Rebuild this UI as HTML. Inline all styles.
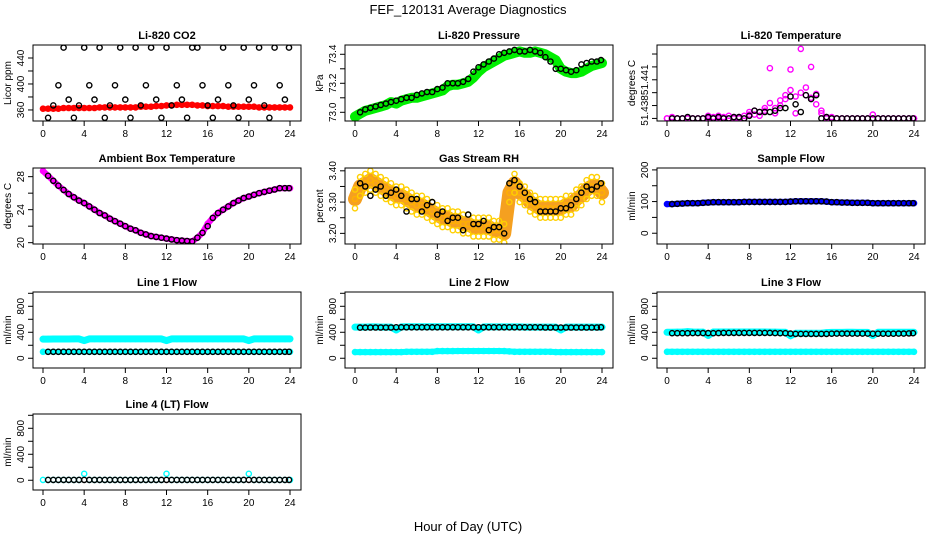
<!DOCTYPE html>
<html><head><meta charset="utf-8"><style>
body{margin:0;background:#fff}
svg{display:block;font-family:"Liberation Sans",sans-serif}
</style></head><body>
<svg id="c" width="936" height="540" viewBox="0 0 936 540">
<text x="468" y="14" text-anchor="middle" font-size="13">FEF_120131  Average Diagnostics</text>
<text x="468" y="531" text-anchor="middle" font-size="13">Hour of Day (UTC)</text>
</svg>
<script>
const HD=[0,0.5,1,1.5,2,2.5,3,3.5,4,4.5,5,5.5,6,6.5,7,7.5,8,8.5,9,9.5,10,10.5,11,11.5,12,12.5,13,13.5,14,14.5,15,15.5,16,16.5,17,17.5,18,18.5,19,19.5,20,20.5,21,21.5,22,22.5,23,23.5,24];
const HB=[0.5,1,1.5,2,2.5,3,3.5,4,4.5,5,5.5,6,6.5,7,7.5,8,8.5,9,9.5,10,10.5,11,11.5,12,12.5,13,13.5,14,14.5,15,15.5,16,16.5,17,17.5,18,18.5,19,19.5,20,20.5,21,21.5,22,22.5,23,23.5,23.9];
const co2Red=[362,362,362,362,363,363,363,363,363,363,363,364,364,364,364,364,364,364,364,365,365,365,366,366,367,367,368,368,368,368,367,367,366,366,366,366,365,365,365,365,365,365,364,364,364,364,364,364,364];
const co2Black=[348,367,398,456,376,348,367,456,398,376,456,348,367,398,456,376,348,456,367,398,456,376,348,456,367,398,376,348,456,456,398,367,348,376,456,398,367,348,456,376,398,456,367,348,456,398,376,456];
const presGreen=[72.97,72.99,73.01,73.02,73.03,73.04,73.05,73.07,73.06,73.08,73.09,73.10,73.10,73.11,73.12,73.13,73.14,73.15,73.18,73.19,73.19,73.20,73.21,73.24,73.28,73.31,73.33,73.35,73.37,73.39,73.40,73.41,73.42,73.41,73.41,73.42,73.41,73.40,73.38,73.36,73.30,73.28,73.27,73.27,73.28,73.30,73.32,73.33,73.34];
const presBlack=[73.00,73.02,73.03,73.04,73.05,73.06,73.07,73.08,73.09,73.10,73.10,73.12,73.13,73.14,73.14,73.16,73.17,73.20,73.20,73.20,73.21,73.23,73.28,73.31,73.33,73.35,73.37,73.40,73.41,73.42,73.43,73.42,73.42,73.43,73.42,73.41,73.38,73.35,73.30,73.30,73.29,73.28,73.29,73.33,73.34,73.35,73.35,73.36];
const tempMag=[51.4380,51.4381,51.4380,51.4380,51.4380,51.4380,51.4380,51.4380,51.4382,51.4381,51.4380,51.4381,51.4380,51.4381,51.4381,51.4382,51.4383,51.4386,51.4385,51.4386,51.4392,51.4388,51.4394,51.4398,51.4402,51.4397,51.4400,51.4404,51.4396,51.4391,51.4386,51.4381,51.4381,51.4380,51.4380,51.4380,51.4380,51.4380,51.4380,51.4380,51.4383,51.4380,51.4380,51.4380,51.4380,51.4380,51.4380,51.4380,51.4380];
const tempMag2=[51.4380,51.4380,51.4380,51.4380,51.4380,51.4380,51.4380,51.4380,51.4380,51.4380,51.4382,51.4380,51.4382,51.4380,51.4380,51.4380,51.4385,51.4383,51.4382,51.4388,51.4419,51.4384,51.4390,51.4395,51.4418,51.4384,51.4434,51.4398,51.4420,51.4399,51.4384,51.4380,51.4380,51.4380,51.4380,51.4380,51.4380,51.4380,51.4380,51.4380,51.4380,51.4380,51.4380,51.4380,51.4380,51.4380,51.4380,51.4380,51.4380];
const tempBlack=[51.4380,51.4380,51.4380,51.4381,51.4380,51.4380,51.4380,51.4381,51.4380,51.4381,51.4380,51.4380,51.4381,51.4381,51.4380,51.4382,51.4386,51.4385,51.4385,51.4385,51.4386,51.4388,51.4388,51.4397,51.4391,51.4385,51.4398,51.4395,51.4398,51.4380,51.4381,51.4380,51.4380,51.4380,51.4380,51.4380,51.4380,51.4380,51.4380,51.4380,51.4380,51.4380,51.4380,51.4380,51.4380,51.4380,51.4380,51.4380];
const ambMag=[28.7,28.1,27.5,26.9,26.4,25.9,25.5,25.1,24.8,24.4,24.0,23.6,23.3,22.9,22.6,22.3,22.0,21.7,21.5,21.2,21.0,20.8,20.7,20.6,20.5,20.4,20.3,20.25,20.2,20.15,20.6,21.2,22.3,23.0,23.6,24.0,24.4,24.8,25.1,25.4,25.6,25.8,26.0,26.15,26.3,26.45,26.6,26.6,26.6];
const ambBlack=[28.1,27.5,26.9,26.4,25.9,25.5,25.1,24.8,24.4,24.0,23.6,23.3,22.9,22.6,22.3,22.0,21.7,21.5,21.2,21.0,20.8,20.7,20.6,20.5,20.4,20.3,20.25,20.2,20.15,20.6,21.2,22.0,23.0,23.6,24.0,24.4,24.8,25.1,25.4,25.6,25.8,26.0,26.15,26.3,26.45,26.6,26.6,26.6];
const rhOrange=[3.31,3.35,3.36,3.37,3.36,3.35,3.34,3.33,3.32,3.32,3.31,3.30,3.29,3.29,3.28,3.27,3.26,3.25,3.25,3.24,3.24,3.23,3.23,3.22,3.22,3.22,3.22,3.21,3.21,3.20,3.33,3.36,3.33,3.32,3.30,3.29,3.28,3.28,3.28,3.28,3.28,3.29,3.29,3.31,3.32,3.34,3.35,3.35,3.33];
const rhBlack=[3.36,3.35,3.32,3.34,3.35,3.32,3.33,3.34,3.32,3.27,3.31,3.31,3.27,3.29,3.30,3.26,3.27,3.24,3.25,3.25,3.21,3.26,3.23,3.23,3.24,3.21,3.22,3.22,3.20,3.36,3.37,3.35,3.33,3.31,3.30,3.27,3.27,3.27,3.27,3.28,3.28,3.29,3.31,3.33,3.35,3.34,3.35,3.36];
const sampBlue=[92,92,93,94,95,95,95,96,97,98,98,98,98,98,98,99,99,99,99,99,99,99,99,99,100,101,101,101,101,101,101,100,98,98,97,97,96,96,96,96,95,95,95,95,95,95,95,95,95];
const sampBlack=[92,93,94,95,95,95,96,97,98,98,98,98,98,98,99,99,99,99,99,99,99,99,99,100,101,101,101,101,101,101,100,98,98,97,97,96,96,96,96,95,95,95,95,95,95,95,95,95];
const l1Hi=[295,295,296,296,297,297,298,298,272,298,298,298,298,298,298,298,298,298,298,298,298,298,298,298,272,298,298,298,298,298,298,298,298,298,298,298,298,298,298,298,272,298,298,298,298,298,298,298,298];
const l1Lo=[100,100,100,100,100,100,100,100,100,100,100,100,100,100,100,100,100,100,100,100,100,100,100,100,100,100,100,100,100,100,100,100,100,100,100,100,100,100,100,100,100,100,100,100,100,100,100,100,100];
const l1Black=[100,100,100,100,100,100,100,100,100,100,100,100,100,100,100,100,100,100,100,100,100,100,100,100,100,100,100,100,100,100,100,100,100,100,100,100,100,100,100,100,100,100,100,100,100,100,100,100];
const l2Hi=[480,480,480,482,482,480,480,480,435,482,484,484,484,484,484,484,484,484,484,484,484,484,484,484,435,482,482,482,482,482,482,482,482,480,480,480,480,480,480,480,435,480,480,480,480,480,480,480,480];
const l2Lo=[95,95,95,95,95,95,95,95,95,95,100,100,100,100,100,100,110,110,110,110,112,112,112,112,112,112,112,112,112,110,105,100,100,100,100,100,100,100,100,95,95,95,95,95,95,95,95,95,95];
const l2Black=[472,472,474,474,474,474,474,476,476,476,476,476,476,476,476,476,476,476,476,476,476,476,476,476,476,476,476,476,476,476,476,476,476,476,476,476,474,474,474,474,474,474,474,474,474,474,474,476];
const l3Hi=[400,400,402,402,410,404,402,402,350,404,404,404,404,404,404,404,404,404,404,404,402,402,400,400,345,385,385,385,385,385,385,395,398,398,398,400,400,398,398,398,350,400,400,400,400,400,400,400,400];
const l3Lo=[100,100,100,100,100,100,100,100,100,100,100,100,100,100,100,100,100,100,100,100,100,100,100,100,100,100,100,100,100,100,100,100,100,100,100,100,100,100,100,100,100,100,100,100,100,100,100,100,100];
const l3Black=[385,385,385,385,387,387,387,387,385,387,390,390,390,390,390,390,390,390,390,390,388,386,386,380,375,375,375,375,375,375,375,378,380,380,380,380,380,380,380,378,378,378,378,378,380,380,382,385];
const l4Cyan=[5,5,5,5,5,5,5,5,100,5,5,5,5,5,5,5,5,5,5,5,5,5,5,5,100,5,5,5,5,5,5,5,5,5,5,5,5,5,5,5,100,5,5,5,5,5,5,5,5];
const l4Black=[5,5,5,5,5,5,5,5,5,5,5,5,5,5,5,5,5,5,5,5,5,5,5,5,5,5,5,5,5,5,5,5,5,5,5,5,5,5,5,5,5,5,5,5,5,5,5,5];
const xTicks=[0,4,8,12,16,20,24];

const NS="http://www.w3.org/2000/svg";
const svg=document.getElementById('c');
function mk(tag,attrs,parent){const e=document.createElementNS(NS,tag);for(const k in attrs)e.setAttribute(k,attrs[k]);(parent||svg).appendChild(e);return e;}
const ROWS=[45,168,292,414];
const FLOW=[-150,1020],FT=[0,200,400,600,800,1000],FL=[0,400,800];
const panels=[
 {key:'co2',c:0,r:0,title:'Li-820 CO2',ylab:'Licor ppm',yr:[343,460],yt:[360,380,400,420,440],yl:[360,400,440],fmt:v=>v,
  series:[{x:HD,y:co2Red,col:'#ff0000',band:5},{x:HB,y:co2Black,col:'#000'}]},
 {key:'pressure',c:1,r:0,title:'Li-820 Pressure',ylab:'kPa',yr:[72.94,73.464],yt:[73.0,73.1,73.2,73.3,73.4],yl:[73.0,73.2,73.4],fmt:v=>v.toFixed(1),
  series:[{x:HD,y:presGreen,col:'#00ee00',band:10},{x:HB,y:presBlack,col:'#000'}]},
 {key:'li820-temp',c:2,r:0,title:'Li-820 Temperature',ylab:'degrees C',yr:[51.4378,51.4437],yt:[51.438,51.439,51.440,51.441,51.442,51.443],yl:[51.438,51.441],fmt:v=>v.toFixed(3),
  lshift:{'51.438':-8,'51.441':0},
  series:[{x:HD,y:tempMag,col:'#ff00ff'},{x:HD,y:tempMag2,col:'#ff00ff'},{x:HB,y:tempBlack,col:'#000'}]},
 {key:'ambient-temp',c:0,r:1,title:'Ambient Box Temperature',ylab:'degrees C',yr:[19.84,29.05],yt:[20,22,24,26,28],yl:[20,24,28],fmt:v=>v,
  series:[{x:HD,y:ambMag,col:'#ff00ff',band:6},{x:HB,y:ambBlack,col:'#000'}]},
 {key:'rh',c:1,r:1,title:'Gas Stream RH',ylab:'percent',yr:[3.166,3.409],yt:[3.20,3.25,3.30,3.35,3.40],yl:[3.20,3.30,3.40],fmt:v=>v.toFixed(2),
  series:[{x:HD,y:rhOrange,col:'#ffb000',band:14,bandCol:'#f5a020'},{x:HD,y:rhOrange,col:'#ffd000',off:0.03},{x:HD,y:rhOrange,col:'#ffd000',off:-0.03},{x:HB,y:rhBlack,col:'#000'}]},
 {key:'sample-flow',c:2,r:1,title:'Sample Flow',ylab:'ml/min',yr:[-34,206],yt:[0,50,100,150,200],yl:[0,100,200],fmt:v=>v,
  series:[{x:HD,y:sampBlue,col:'#0000ff',band:6},{x:HB,y:sampBlack,col:'#000'}]},
 {key:'line1-flow',c:0,r:2,title:'Line 1 Flow',ylab:'ml/min',yr:FLOW,yt:FT,yl:FL,fmt:v=>v,
  series:[{x:HD,y:l1Hi,col:'#00ffff',band:7},{x:HD,y:l1Lo,col:'#00ffff',band:5},{x:HB,y:l1Black,col:'#000'}]},
 {key:'line2-flow',c:1,r:2,title:'Line 2 Flow',ylab:'ml/min',yr:FLOW,yt:FT,yl:FL,fmt:v=>v,
  series:[{x:HD,y:l2Hi,col:'#00ffff',band:7},{x:HD,y:l2Lo,col:'#00ffff',band:6},{x:HB,y:l2Black,col:'#000'}]},
 {key:'line3-flow',c:2,r:2,title:'Line 3 Flow',ylab:'ml/min',yr:FLOW,yt:FT,yl:FL,fmt:v=>v,
  series:[{x:HD,y:l3Hi,col:'#00ffff',band:7},{x:HD,y:l3Lo,col:'#00ffff',band:6},{x:HB,y:l3Black,col:'#000'}]},
 {key:'line4-flow',c:0,r:3,title:'Line 4 (LT) Flow',ylab:'ml/min',yr:FLOW,yt:FT,yl:FL,fmt:v=>v,
  series:[{x:HD,y:l4Cyan,col:'#00ffff'},{x:HB,y:l4Black,col:'#000'}]}
];
panels.forEach(p=>{
  const ox=312*p.c, top=ROWS[p.r], H=76, L=ox+33, R=ox+301, B=top+H;
  const xs=h=>ox+43+h*(247/24);
  const ys=v=>top+H*(p.yr[1]-v)/(p.yr[1]-p.yr[0]);
  const g=mk('g',{});
  
  
  const t=mk('text',{x:(L+R)/2,y:top-6,'text-anchor':'middle','font-size':11,'font-weight':'bold'},g);t.textContent=p.title;
  
  
  const cl='clip'+p.key;
  const cp=mk('clipPath',{id:cl},g);mk('rect',{x:L,y:top,width:R-L,height:H},cp);
  const pg=mk('g',{'clip-path':'url(#'+cl+')'},g);
  p.series.forEach((s,si)=>{
    const off=s.off||0;
    if(s.band){
      const pts=s.x.map((h,i)=>xs(h).toFixed(1)+','+ys(s.y[i]+off).toFixed(1)).join(' ');
      const pl=mk('polyline',{points:pts,fill:'none',stroke:s.bandCol||s.col,'stroke-width':s.band,'stroke-linejoin':'round','stroke-linecap':'round'},pg);
      
      
    }
    s.x.forEach((h,i)=>{
      const c=mk('circle',{cx:xs(h).toFixed(1),cy:ys(s.y[i]+off).toFixed(1),r:2.6,fill:'none',stroke:s.col,'stroke-width':1.4},pg);
      
      
    });
  });
  mk('rect',{x:L,y:top,width:R-L,height:H,fill:'none',stroke:'#000','stroke-width':1},g);
  mk('line',{x1:xs(0),x2:xs(24),y1:B,y2:B,stroke:'#000'},g);
  xTicks.forEach(v=>{
    mk('line',{x1:xs(v),x2:xs(v),y1:B,y2:B+5,stroke:'#000'},g);
    const tx=mk('text',{x:xs(v),y:B+16,'text-anchor':'middle','font-size':10},g);tx.textContent=v;
    
    
  });
  const y0=ys(p.yt[0]),y1=ys(p.yt[p.yt.length-1]);
  mk('line',{x1:L,x2:L,y1:y0,y2:y1,stroke:'#000'},g);
  p.yt.forEach(v=>{mk('line',{x1:L-5,x2:L,y1:ys(v),y2:ys(v),stroke:'#000'},g);});
  p.yl.forEach(v=>{
    const sh=p.lshift?(p.lshift[String(v)]||0):0;
    const yy=ys(v)+sh;
    const tx=mk('text',{x:L-9,y:yy,'text-anchor':'middle','font-size':10,transform:'rotate(-90 '+(L-9)+' '+yy+')'},g);
    tx.textContent=p.fmt(v);
    
    
  });
  const cy=top+H/2;
  const yl=mk('text',{x:ox+11,y:cy,'text-anchor':'middle','font-size':10,transform:'rotate(-90 '+(ox+11)+' '+cy+')'},g);
  yl.textContent=p.ylab;
  
  
});
</script>
</body></html>
